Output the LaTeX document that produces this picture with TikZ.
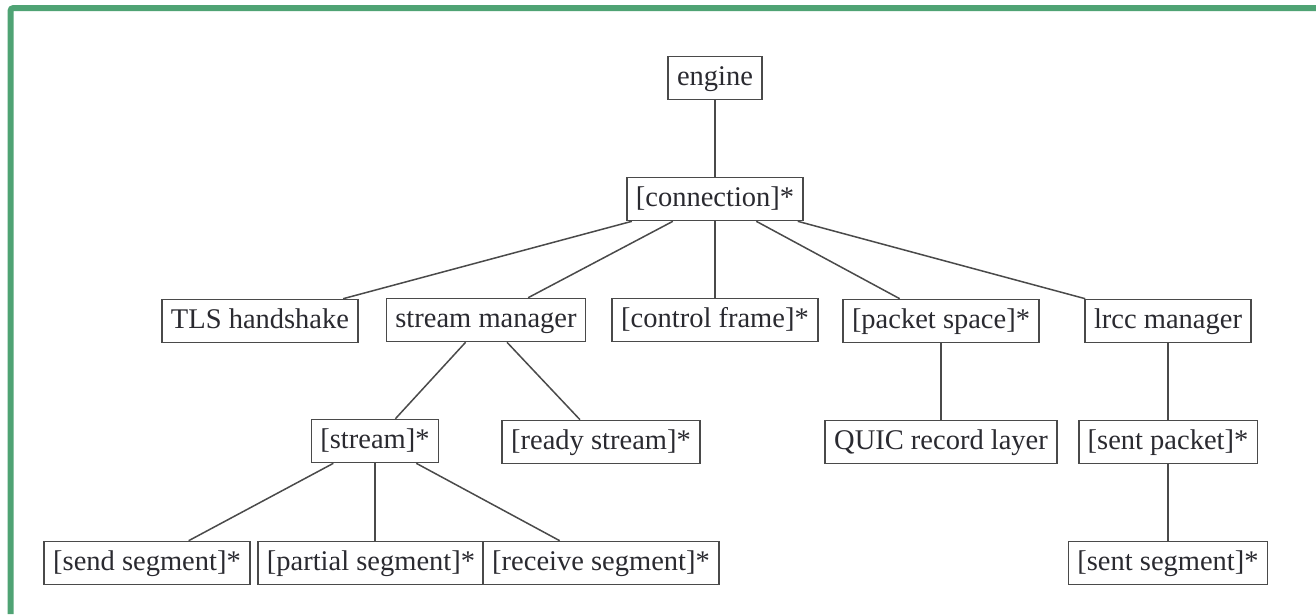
\documentclass[tikz,border=0pt]{standalone}
\usepackage{fontspec}
\setmainfont{Liberation Serif}
\definecolor{framegreen}{HTML}{4FA374}
\definecolor{ink}{HTML}{4A4A4A}
\definecolor{txt}{HTML}{2A2A30}
\begin{document}
\begin{tikzpicture}[x=1pt,y=-1pt,
  box/.style={draw=ink, line width=1.6pt, fill=white, text=txt,
    font=\fontsize{28.5}{30}\selectfont,
    text height=21pt, text depth=7pt, inner xsep=9pt, inner ysep=7.5pt},
  link/.style={draw=ink, line width=1.5pt}]
\useasboundingbox (0,0) rectangle (1316,614);
\fill[white] (0,0) rectangle (1316,614);
% frame (top and left sides)
\draw[framegreen, line width=6pt, rounded corners=3pt] (10.5,614) -- (10.5,8) -- (1316,8);

% level 0 and 1
\node[box] (engine) at (715,78) {engine};
\node[box] (conn) at (715,199) {[connection]*};
% level 2
\node[box] (tls) at (260,321) {TLS handshake};
\node[box] (sman) at (486,320) {stream manager};
\node[box] (ctrl) at (715,320) {[control frame]*};
\node[box] (pspace) at (941,321) {[packet space]*};
\node[box] (lrcc) at (1168,321) {lrcc manager};
% level 3
\node[box] (stream) at (375,441) {[stream]*};
\node[box] (ready) at (601,442) {[ready stream]*};
\node[box] (quic) at (941,442) {QUIC record layer};
\node[box] (sentpkt) at (1168,442) {[sent packet]*};
% level 4
\node[box] (send) at (147,563) {[send segment]*};
\node[box] (partial) at (371,563) {[partial segment]*};
\node[box] (recv) at (601,563) {[receive segment]*};
\node[box] (sentseg) at (1168,563) {[sent segment]*};

% tree edges
\draw[link] (engine) -- (conn);
\foreach \c in {tls,sman,ctrl,pspace,lrcc} \draw[link] (conn) -- (\c);
\draw[link] (sman) -- (stream);
\draw[link] (sman) -- (ready);
\draw[link] (pspace) -- (quic);
\draw[link] (lrcc) -- (sentpkt);
\draw[link] (sentpkt) -- (sentseg);
\draw[link] (stream) -- (send);
\draw[link] (stream) -- (stream |- partial.north);
\draw[link] (stream) -- (recv);
\end{tikzpicture}
\end{document}
